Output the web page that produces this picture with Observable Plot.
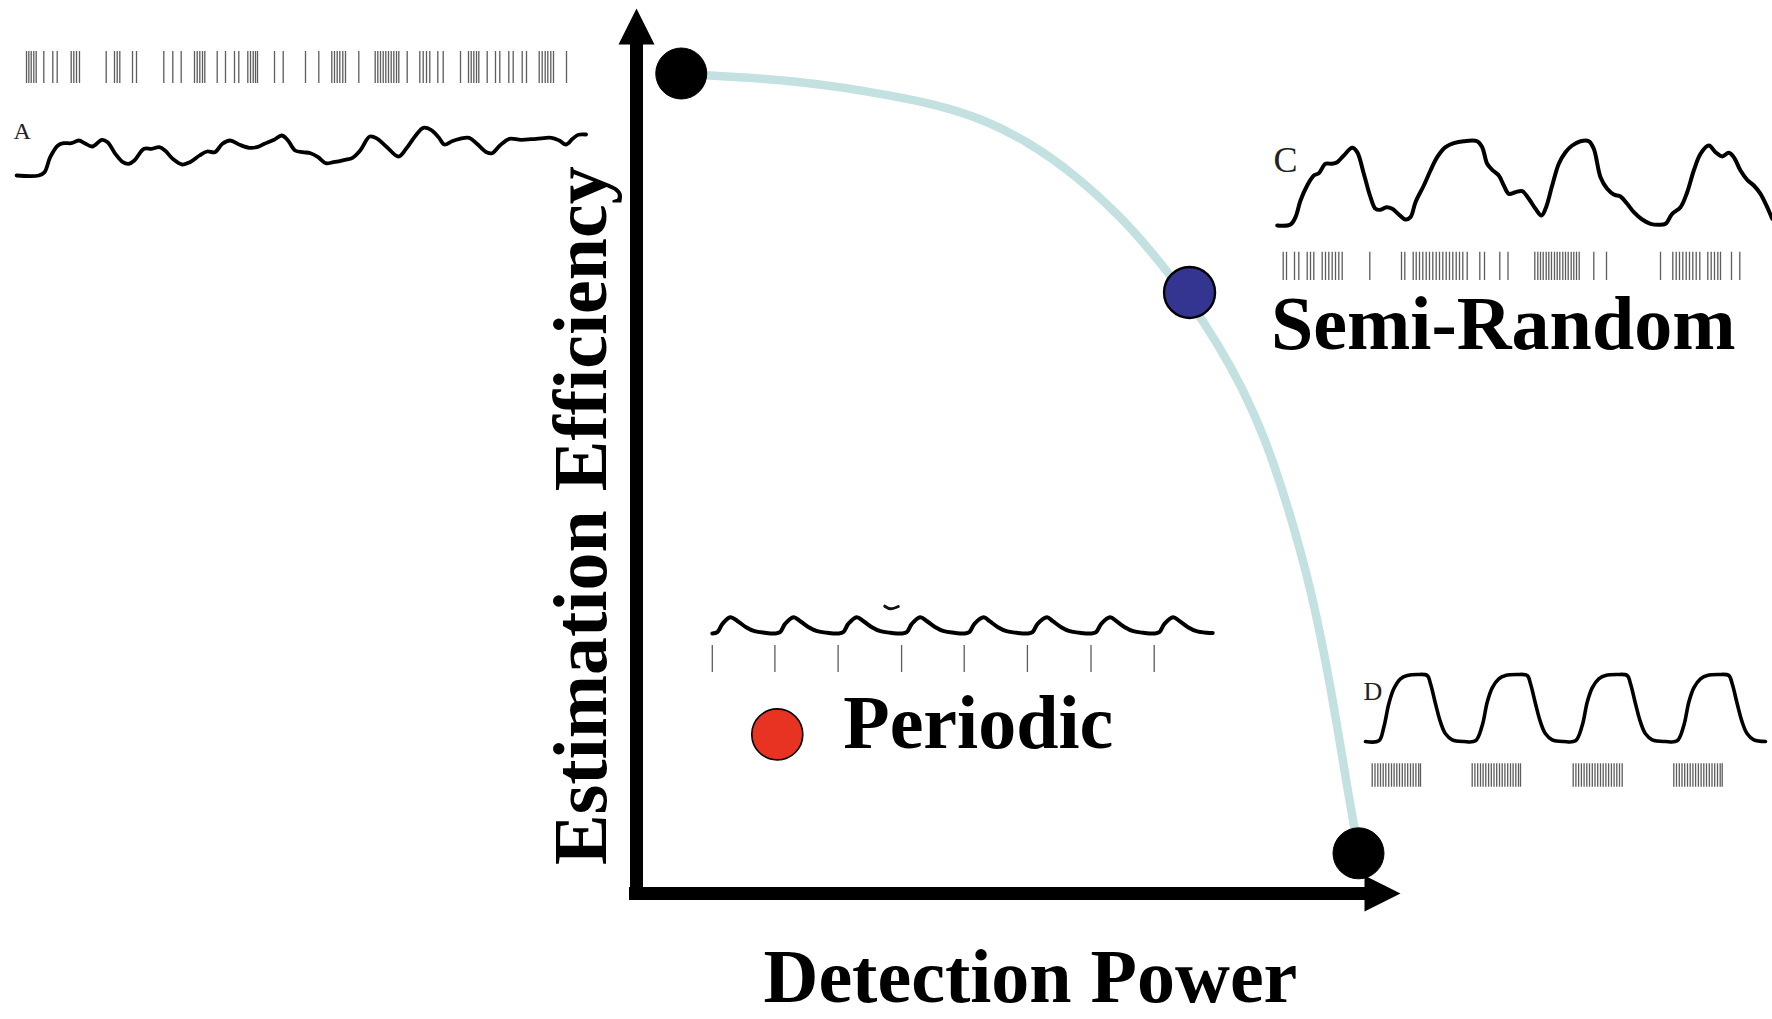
<!DOCTYPE html>
<html><head><meta charset="utf-8">
<script src="https://cdn.jsdelivr.net/npm/d3@7"></script>
<script src="https://cdn.jsdelivr.net/npm/@observablehq/plot@0.6"></script>
<style>
body{margin:0;background:#fff}
#root{position:relative;width:1772px;height:1019px;overflow:hidden;background:#fff}
</style>
</head><body><div id="root"></div>
<script>
// ---------------- DATA ----------------
// Trade-off frontier (detection power vs estimation efficiency)
const frontierPower = [0.0619,0.0968,0.1604,0.2240,0.2877,0.3512,0.4148,0.4784,0.5420,0.6055,0.6691,0.7119,0.7604,0.8075,0.8393,0.8698,0.9030,0.9349,0.9612,0.9861,0.9986];
const frontierEfficiency = [0.9998,0.9976,0.9948,0.9902,0.9829,0.9732,0.9622,0.9451,0.9171,0.8780,0.8268,0.7841,0.7305,0.6671,0.6159,0.5573,0.4707,0.3695,0.2549,0.1195,0.0585];

// Designs
const designNames = ["Random", "Semi-Random", "Periodic", "Block"];
const designPower = [0.062, 0.766, 0.195, 1.0];
const designEfficiency = [1.0, 0.733, 0.194, 0.049];

// Axis titles and design labels
const xTitle = "Detection Power";
const yTitle = "Estimation Efficiency";
const labelSemi = "Semi-Random";
const labelPeriodic = "Periodic";

// Inset A: random design (time, response)
const waveA_t = [16.1,38.3,44,49.7,57.4,63.1,70.8,78.4,84.2,91.8,101.4,107.1,114.8,122.4,128.2,133.9,143.5,151.1,158.8,164.5,172.2,181.8,189.4,199,206.6,214.3,221.9,229.6,239.2,248.7,256.4,264,273.6,281.2,287,294.6,302.3,310,317.6,325.3,332.9,344.4,352,359.7,369.3,376.9,386.5,398,405.6,415.2,422.8,430.5,438.1,443.9,451.5,459.2,468.7,476.4,486,491.7,499.4,508.9,520.4,535.7,551,558.7,565.6,572.1,577.8,585.5];
const waveA_v = [0,0,3.3,18.3,30,32.3,32.3,35,32.3,29,35.7,33.3,21.7,13.3,11.7,15,26.7,26.7,28.3,25,16.7,11,13.3,20,24,23.3,31.7,35,30.7,27.7,28.3,31.7,35.7,40,35.7,25,23.3,22.3,18.3,12.3,13.3,15.7,17.7,25,39,36.7,28.3,19,26.7,40,47.7,45.7,38.3,31,34.3,36.7,37.7,31.7,23.3,22.3,30,36.7,35.7,36.7,37.7,35,31,36.7,40.7,41];
const spikesA = [26,28.3,30.7,33.3,35.7,43.3,52.3,56.7,70.7,73.3,76,79,105.7,114,116.7,119.3,132,136,163.3,172.3,180.7,194,196.7,199.3,202,204.3,216.7,225,234,238.3,247.3,250,252.7,255,257,274,282.7,305,318.3,331.3,334,336.7,339.3,342.3,345,358.3,374.7,377.3,380,382.7,385.3,388,390.7,393.3,396,398.3,406.7,419.3,422.7,426,429.3,437.3,442.7,460,468,470.7,473.3,476,478.3,486.7,495,499.3,508.3,512.7,521.7,526,538.7,541.7,544.7,547.3,550.3,553,566];

// Inset B: periodic design
const waveB_t = [11.8,16.9,22,29.8,37.2,45.6,54.1,64.2, 74.4,79.5,84.6,93,99.8,108.2,116.7,126.8, 137.6,142.7,147.8,156.2,163,171.4,179.9,190, 201.1,206.2,211.3,219.7,226.5,234.9,243.4,253.5, 263.7,268.8,273.9,283.3,289.1,297.5,306,316.1, 326.9,332,337.1,346.5,352.3,360.7,369.2,379.3, 390.5,395.6,400.7,409.7,415.9,424.3,432.8,442.9, 453.7,458.8,463.9,472.6,479.1,487.5,496,506.1,512.2];
const waveB_v = [0,1.3,9.7,16.3,12.3,6.3,2.3,0.7, 0,1.3,9.7,16.3,12.3,6.3,2.3,0.7, 0,1.3,9.7,16.3,12.3,6.3,2.3,0.7, 0,1.3,9.7,16.3,12.3,6.3,2.3,0.7, 0,1.3,9.7,16.3,12.3,6.3,2.3,0.7, 0,1.3,9.7,16.3,12.3,6.3,2.3,0.7, 0,1.3,9.7,16.3,12.3,6.3,2.3,0.7, 0,1.3,9.7,16.3,12.3,6.3,2.3,0.7,0.5];
const spikesB = [11.8,74.4,137.6,201.1,263.7,326.9,390.5,453.7];
const fragmentB_t = [184.3,190,197.8];
const fragmentB_v = [27.3,24.7,27];

// Inset C: semi-random design
const waveC_t = [16.7,30,35,40,46.7,53.3,58.3,65,71.7,76.7,83.3,91.7,96.7,103.3,110,115,120,126,131.7,138.3,145,150,155,163.3,170,176.7,185,193.3,203.3,216.7,221.7,226.7,231.7,238.3,243.3,248.3,255,261.7,268.3,275,281,285,291.7,298.3,305,311.7,320,328.3,333.3,340,346.7,353.3,360,366.7,373.3,381.7,390,398.3,405,411.7,420,426.7,433.3,440,448.3,455,461.7,468.3,473.3,480,486.7,493.3,500,506.7,511.7];
const waveC_v = [0,1,8.3,25,40,50,52.3,61.7,61.7,63.3,70,77.7,73.3,51.7,28.3,16.7,15.7,18.3,16.7,11,6,8.3,23.3,40,55,68.3,78.3,82.3,84.3,84.3,78.3,61.7,55.7,50,40,31.7,33.3,34.3,26.7,16.7,10,16.7,40,61.7,73.3,80,84.3,84.3,76.7,48.3,36.7,31,29,21.7,13.3,6,1.7,0.7,1.7,11.7,18.3,33.3,55,71.7,80,73.3,69,72.7,68.3,55,45.7,40,31.7,18.3,6.7];
const spikesC = [22.7,26,34,38.3,46.7,50,53.3,61.7,65,68.3,71.7,75,78.3,81.7,109.3,141,144.3,152.7,155.7,159,162.3,165.7,169,172.3,175.7,179,182.3,185.7,189,192.3,195.7,199,202.3,206.7,219.3,224,239.3,247.5,274.3,277.3,280,282.7,285.7,288.3,291,294,296.7,299.3,302.3,305,307.7,310.7,313.3,316,318.7,333.3,346,400,412.3,415.7,419,422.3,425.7,429,432.3,435.7,439.3,447.3,450.7,454,457.3,460,471,479.3];

// Inset D: block design
const waveD_t = [15,28.3,33.3,38.3,43.3,50,56.7,66.7,76.7,80,85,90,95,101.7,113.3,125, 131.7,136.7,141.7,148.3,155,166.7,176.7,180,185,190,195,201.7,213.3,225, 231.7,236.7,241.7,248.3,255,266.7,276.7,280,285,290,295,301.7,315,326.7, 333.3,338.3,343.3,350,356.7,368.3,378.3,381.7,386.7,391.7,396.7,403.3,415];
const waveD_v = [0,0.7,14.3,37.7,52.7,62.7,66,67,66,57.7,37.7,19.3,7.7,1.7,0,0.7, 16,39.3,53.7,62.7,66,67,66,57.7,37.7,19.3,7.7,1.7,0,0.7, 16,39.3,53.7,62.7,66,67,66,57.7,37.7,19.3,7.7,1.7,0,0.7, 16,39.3,53.7,62.7,66,67,66,57.7,37.7,19.3,7.7,1.7,0];
const spikesD = [21.7,24.5,27.3,30,32.7,35.3,38.2,41,43.6,46.3,49,51.8,54.5,57.2,60,62.7,65.4,68.2,70,
  121.7,124.4,127.2,130,132.6,135.3,138.1,140.8,143.5,146.2,149,151.7,154.4,157.2,160,162.6,165.3,168,170,
  222.7,225.4,228.1,230.9,233.6,236.3,239,241.8,244.5,247.2,250,252.7,255.4,258.1,260.9,263.6,266.3,269,271.7,
  323.3,326,328.8,331.5,334.2,337,339.7,342.4,345.1,347.9,350.6,353.3,356,358.8,361.5,364.2,367,369.7,371.7];

// ---------------- BUILD ----------------
const W = 1772, H = 1019;
const originX = 636, originY = 893, unitX = 722, unitY = 820; // layout of the main axes
const serif = "'Liberation Serif', 'Times New Roman', Times, serif";
const root = document.getElementById("root");

const frontier = frontierPower.map((p, i) => ({power: p, efficiency: frontierEfficiency[i]}));
const designs = designNames.map((n, i) => ({name: n, power: designPower[i], efficiency: designEfficiency[i]}));
const designFill = {"Random": "#000000", "Semi-Random": "#333590", "Periodic": "#e83323", "Block": "#000000"};
const designStroke = {"Random": 1, "Semi-Random": 2.4, "Periodic": 1.6, "Block": 1};

const arrowUp = {draw(ctx, size) { const r = Math.sqrt(size / Math.PI); ctx.moveTo(0, -r); ctx.lineTo(r, r); ctx.lineTo(-r, r); ctx.closePath(); }};
const arrowRight = {draw(ctx, size) { const r = Math.sqrt(size / Math.PI); ctx.moveTo(r, 0); ctx.lineTo(-r, r); ctx.lineTo(-r, -r); ctx.closePath(); }};

const bigText = {fontSize: 76, fontWeight: "bold", fontFamily: serif, fill: "black", text: d => d};

const main = Plot.plot({
  width: W, height: H, margin: 0,
  x: {domain: [-originX / unitX, (W - originX) / unitX], axis: null},
  y: {domain: [(originY - H) / unitY, originY / unitY], axis: null},
  style: {background: "transparent", position: "absolute", left: "0px", top: "0px", overflow: "visible", maxWidth: "none"},
  marks: [
    Plot.line(frontier, {x: "power", y: "efficiency", curve: "basis", stroke: "#c3e1e1", strokeWidth: 8.5}),
    Plot.ruleX([0], {y1: -0.0085, y2: 1.04, stroke: "black", strokeWidth: 13}),
    Plot.ruleY([0], {x1: -0.0097, x2: 1.02, stroke: "black", strokeWidth: 13}),
    Plot.dot([0], {x: () => 0, y: () => 1.0573, r: 18, symbol: arrowUp, fill: "black", stroke: "none"}),
    Plot.dot([0], {x: () => 1.0332, y: () => 0, r: 18, symbol: arrowRight, fill: "black", stroke: "none"}),
    ...designs.map(d => Plot.dot([d], {x: "power", y: "efficiency", r: 25.5, fill: designFill[d.name], stroke: "black", strokeWidth: designStroke[d.name]})),
    Plot.text([yTitle], {...bigText, x: () => -0.0416, y: () => 0.0348, rotate: -90, textAnchor: "start", lineAnchor: "bottom"}),
    Plot.text([xTitle], {...bigText, x: () => 0.1759, y: () => -0.1329, textAnchor: "start", lineAnchor: "bottom"}),
    Plot.text([labelSemi], {...bigText, x: () => 0.8788, y: () => 0.6646, textAnchor: "start", lineAnchor: "bottom"}),
    Plot.text([labelPeriodic], {...bigText, x: () => 0.2863, y: () => 0.178, textAnchor: "start", lineAnchor: "bottom"})
  ]
});
root.appendChild(main);

function inset({left, top, width, height, vDomain, t, v, spikes, spikeV, label, labelV, labelSize, lineWidth, extra = []}) {
  const wave = t.map((x, i) => ({t: x, v: v[i]}));
  const marks = [
    Plot.line(wave, {x: "t", y: "v", curve: "catmull-rom", stroke: "black", strokeWidth: lineWidth}),
    Plot.ruleX(spikes, {y1: spikeV[0], y2: spikeV[1], stroke: "#5c5c5c", strokeWidth: 1.3}),
    ...extra
  ];
  if (label) marks.push(Plot.text([label], {x: () => 13, y: () => labelV, text: d => d, fontSize: labelSize, fontFamily: serif, fill: "#222", textAnchor: "start", lineAnchor: "middle"}));
  const svg = Plot.plot({
    width, height, margin: 0,
    x: {domain: [0, width], axis: null},
    y: {domain: vDomain, axis: null},
    style: {background: "transparent", position: "absolute", left: left + "px", top: top + "px", overflow: "visible", maxWidth: "none"},
    marks
  });
  root.appendChild(svg);
}

inset({left: 0, top: 40, width: 600, height: 150, vDomain: [-15, 135], t: waveA_t, v: waveA_v, spikes: spikesA, spikeV: [92, 124], label: "A", labelV: 44.5, labelSize: 24, lineWidth: 3.8});
inset({left: 700, top: 590, width: 530, height: 100, vDomain: [-57, 43], t: waveB_t, v: waveB_v, spikes: spikesB, spikeV: [-12, -39], lineWidth: 4,
  extra: [Plot.line(fragmentB_t.map((x, i) => ({t: x, v: fragmentB_v[i]})), {x: "t", y: "v", curve: "catmull-rom", stroke: "#111", strokeWidth: 3})]});
inset({left: 1260, top: 120, width: 512, height: 170, vDomain: [-65, 105], t: waveC_t, v: waveC_v, spikes: spikesC, spikeV: [-26.7, -55], label: "C", labelV: 65, labelSize: 36, lineWidth: 4});
inset({left: 1350, top: 660, width: 422, height: 140, vDomain: [-59, 81], t: waveD_t, v: waveD_v, spikes: spikesD, spikeV: [-22.3, -45.7], label: "D", labelV: 49.5, labelSize: 26, lineWidth: 3.6});
</script>
</body></html>
